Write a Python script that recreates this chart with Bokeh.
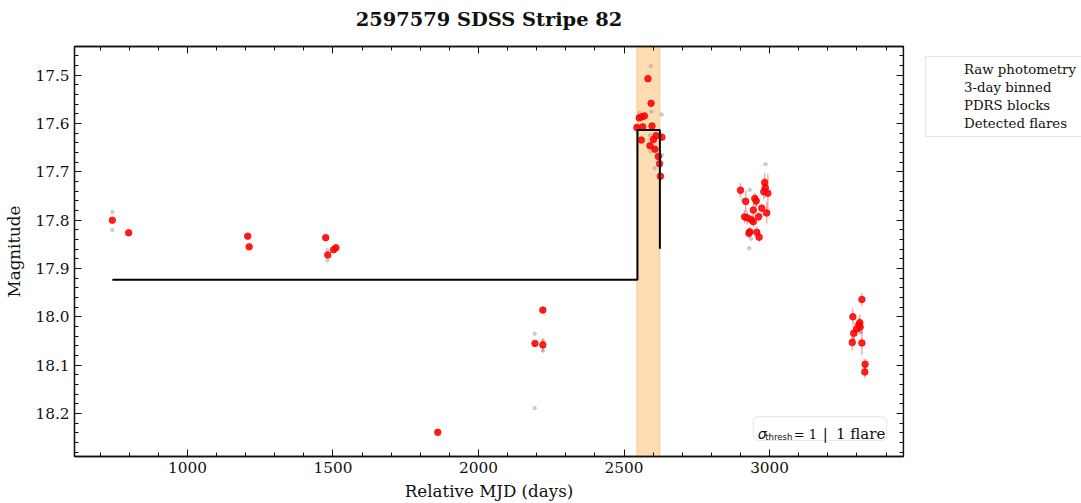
from bokeh.plotting import figure
from bokeh.layouts import row
from bokeh.models import (ColumnDataSource, Range1d, LinearAxis, SingleIntervalTicker,
                          PrintfTickFormatter, CustomJSTickFormatter, Legend, LegendItem,
                          BoxAnnotation, Label)
from bokeh.embed import file_html
from bokeh.resources import INLINE

# ---------------- data ----------------
raw_mjd = [742, 742, 798, 1207, 1212, 1475, 1481, 1481, 1502, 1510, 1860,
           2193, 2193, 2193, 2221, 2221, 2221,
           2592, 2594, 2552, 2629, 2589, 2630, 2605, 2592, 2568, 2544,
           2986, 2932, 2930, 2936, 2953, 2973, 2908,
           3297, 3314, 3286, 3327]
raw_mag = [17.783, 17.820, 17.826, 17.833, 17.856, 17.836, 17.862, 17.883, 17.862, 17.857, 18.241,
           18.035, 18.056, 18.189, 18.050, 18.070, 17.986,
           17.481, 17.575, 17.578, 17.581, 17.624, 17.665, 17.692, 17.658, 17.603, 17.605,
           17.684, 17.737, 17.858, 17.838, 17.768, 17.789, 17.758,
           18.015, 18.031, 18.046, 18.107]

bin_mjd = [742, 798, 1207, 1212, 1475, 1482, 1502, 1510, 1860, 2194, 2221, 2221,
           2544, 2552, 2559, 2561, 2564, 2570, 2582, 2589, 2593, 2596, 2601, 2606, 2610,
           2618, 2622, 2625, 2630,
           2900, 2918, 2949, 2954, 2944, 2973, 2983, 2985, 2980, 2994, 2990, 2914, 2923,
           2937, 2944, 2962, 2932, 2929, 2956, 2964,
           3317, 3286, 3310, 3307, 3311, 3299, 3289, 3284, 3317, 3328, 3327]
bin_mag = [17.800, 17.826, 17.833, 17.855, 17.836, 17.872, 17.861, 17.857, 18.239, 18.055, 18.058, 17.986,
           17.608, 17.588, 17.634, 17.586, 17.607, 17.584, 17.507, 17.646, 17.558, 17.605, 17.633, 17.653, 17.625,
           17.668, 17.683, 17.709, 17.628,
           17.738, 17.761, 17.755, 17.760, 17.779, 17.775, 17.722, 17.733, 17.741, 17.744, 17.785, 17.793, 17.795,
           17.799, 17.803, 17.793, 17.824, 17.827, 17.825, 17.835,
           17.964, 18.000, 18.012, 18.017, 18.021, 18.025, 18.034, 18.053, 18.054, 18.098, 18.114]
bin_err = [0.004, 0.004, 0.004, 0.004, 0.004, 0.005, 0.004, 0.004, 0.004, 0.005, 0.014, 0.005,
           0.005, 0.005, 0.006, 0.005, 0.005, 0.005, 0.006, 0.006, 0.006, 0.005, 0.006, 0.006, 0.006,
           0.006, 0.006, 0.007, 0.006,
           0.015, 0.022, 0.012, 0.012, 0.015, 0.009, 0.019, 0.020, 0.015, 0.039, 0.022, 0.014, 0.014,
           0.009, 0.010, 0.010, 0.010, 0.010, 0.012, 0.010,
           0.013, 0.018, 0.017, 0.015, 0.015, 0.015, 0.015, 0.017, 0.025, 0.012, 0.012]

block_edges = [742, 2546, 2623]
block_mags = [17.923, 17.613, 17.859]

flare_start = [2544]
flare_end = [2623]

title_text = "2597579 SDSS Stripe 82"
x_label = "Relative MJD (days)"
y_label = "Magnitude"
legend_labels = ["Raw photometry", "3-day binned", "PDRS blocks", "Detected flares"]
sigma_thresh = 1
n_flares = 1

SERIF = "DejaVu Serif"
INK = "#111111"
X0, X1 = 612, 3460
Y_BOTTOM, Y_TOP = 18.289, 17.4404

RAW_STYLE = dict(size=3.5, color="#a0a0a0", alpha=0.45)
BIN_STYLE = dict(size=6.5, fill_color="red", line_color="red", alpha=0.85)
BLK_STYLE = dict(line_color="black", line_width=2)
FLARE_STYLE = dict(fill_color="darkorange", fill_alpha=0.3, line_color="darkorange", line_alpha=0.35)

# ---------------- main figure ----------------
p = figure(width=905, height=503, output_backend="svg", toolbar_location=None,
           x_range=Range1d(X0, X1), y_range=Range1d(Y_BOTTOM, Y_TOP),
           min_border_left=74, min_border_right=2, min_border_top=46, min_border_bottom=45,
           x_axis_type=None, y_axis_type=None)
p.background_fill_color = "white"
p.border_fill_color = "white"
p.outline_line_color = INK
p.outline_line_width = 1.3
p.grid.visible = False
p.title.visible = False

def style_axis(ax, show_labels):
    ax.major_tick_in = 7
    ax.major_tick_out = 0
    ax.minor_tick_in = 4
    ax.minor_tick_out = 0
    ax.axis_line_color = INK
    ax.axis_line_width = 1.3
    ax.major_tick_line_color = INK
    ax.minor_tick_line_color = INK
    ax.major_label_text_font = SERIF
    ax.major_label_text_font_size = "15.3px"
    ax.major_label_text_color = INK
    ax.axis_label_text_font = SERIF
    ax.axis_label_text_font_size = "16.7px"
    ax.axis_label_text_font_style = "normal"
    ax.axis_label_text_color = INK
    if not show_labels:
        ax.formatter = CustomJSTickFormatter(code="return ''")
        ax.major_label_standoff = 0

xt = lambda: SingleIntervalTicker(interval=500, num_minor_ticks=5)
yt = lambda: SingleIntervalTicker(interval=0.1, num_minor_ticks=5)

xb = LinearAxis(ticker=xt(), axis_label=x_label)
style_axis(xb, True)
xb.major_label_standoff = 5
xb.axis_label_standoff = 5
p.add_layout(xb, "below")

# top axis carries the chart title as its label
xa = LinearAxis(ticker=xt(), axis_label=title_text)
style_axis(xa, False)
xa.axis_label_text_font_style = "bold"
xa.axis_label_text_font_size = "19.4px"
xa.axis_label_standoff = 16
p.add_layout(xa, "above")

yl = LinearAxis(ticker=yt(), axis_label=y_label, formatter=PrintfTickFormatter(format="%.1f"))
style_axis(yl, True)
yl.major_label_standoff = 5
yl.axis_label_standoff = 8
p.add_layout(yl, "left")

yr = LinearAxis(ticker=yt(), fixed_location=X1)
style_axis(yr, False)
p.add_layout(yr, "right")

# flare span
fsrc = ColumnDataSource(dict(left=flare_start, right=flare_end,
                             top=[17.0] * len(flare_start), bottom=[19.0] * len(flare_start)))
p.quad(left="left", right="right", top="top", bottom="bottom", source=fsrc, **FLARE_STYLE)

# raw photometry
p.scatter(raw_mjd, raw_mag, **RAW_STYLE)

# binned with error bars
bsrc = ColumnDataSource(dict(x=bin_mjd, y=bin_mag,
                             lo=[m - e for m, e in zip(bin_mag, bin_err)],
                             hi=[m + e for m, e in zip(bin_mag, bin_err)]))
p.segment(x0="x", y0="lo", x1="x", y1="hi", source=bsrc, line_color="red", line_alpha=0.35, line_width=1.5)
p.scatter("x", "y", source=bsrc, **BIN_STYLE)

# PDRS blocks
p.step(block_edges, block_mags, mode="after", **BLK_STYLE)

# annotation box
p.add_layout(BoxAnnotation(left=2944, right=3402, top=18.2066, bottom=18.2559,
                           fill_color="white", fill_alpha=1, line_color="#bbbbbb", line_width=1.2,
                           border_radius=5))
p.add_layout(Label(x=2959, y=18.2430, text="σ", text_font="DejaVu Sans", text_font_style="italic",
                   text_font_size="14px", text_color=INK, text_baseline="alphabetic"))
p.add_layout(Label(x=2985, y=18.2491, text="thresh", text_font="DejaVu Sans",
                   text_font_size="8.5px", text_color=INK, text_baseline="alphabetic"))
p.add_layout(Label(x=3083, y=18.2430, text=f"= {sigma_thresh}", text_font=SERIF,
                   text_font_size="13px", text_color=INK, text_baseline="alphabetic"))
p.add_layout(Label(x=3183, y=18.2430, text="|", text_font=SERIF,
                   text_font_size="15px", text_color=INK, text_baseline="alphabetic"))
p.add_layout(Label(x=3228, y=18.2430, text=f"{n_flares} flare", text_font=SERIF,
                   text_font_size="15px", text_color=INK, text_baseline="alphabetic"))

# ---------------- legend panel (right of the plot) ----------------
lf = figure(width=176, height=503, output_backend="svg", toolbar_location=None,
            x_range=Range1d(0, 1), y_range=Range1d(0, 1), min_border=0,
            x_axis_type=None, y_axis_type=None)
lf.outline_line_color = None
lf.background_fill_color = "white"
lf.border_fill_color = "white"
lf.grid.visible = False
lf.title.visible = False

d_raw = lf.scatter(x=[], y=[], **RAW_STYLE)
d_bin = lf.scatter(x=[], y=[], **BIN_STYLE)
d_blk = lf.line(x=[], y=[], **BLK_STYLE)
d_flare = lf.quad(left=[], right=[], top=[], bottom=[], **FLARE_STYLE)

legend = Legend(items=[LegendItem(label=legend_labels[0], renderers=[d_raw]),
                       LegendItem(label=legend_labels[1], renderers=[d_bin]),
                       LegendItem(label=legend_labels[2], renderers=[d_blk]),
                       LegendItem(label=legend_labels[3], renderers=[d_flare])],
                location=(20, 319))
legend.label_text_font = SERIF
legend.label_text_font_size = "13.3px"
legend.label_text_color = INK
legend.glyph_width = 26
legend.glyph_height = 12
legend.label_standoff = 7
legend.spacing = 3
legend.padding = 5
legend.margin = 0
legend.border_line_color = "#cccccc"
legend.border_line_width = 1
legend.background_fill_alpha = 1
lf.add_layout(legend, "center")

layout = row(p, lf, spacing=0)
open("out.html", "w").write(file_html(layout, INLINE))
